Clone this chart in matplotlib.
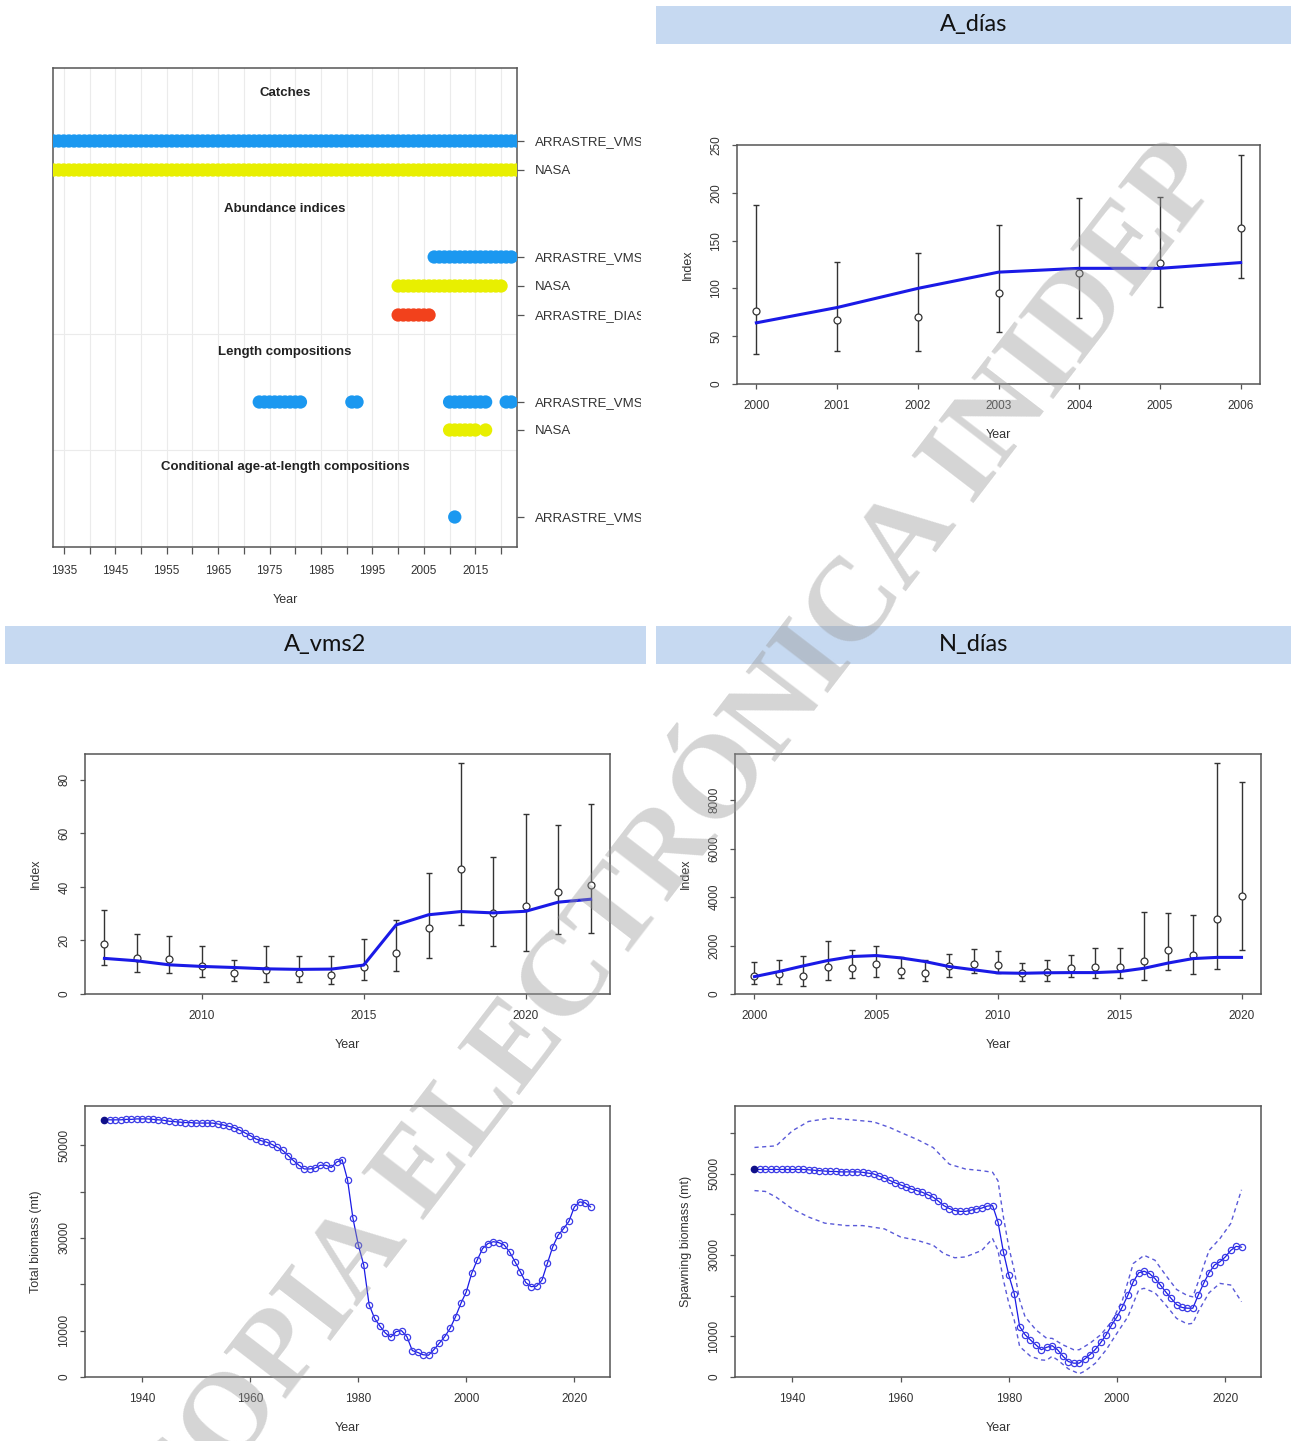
import matplotlib
matplotlib.use("Agg")
import matplotlib.pyplot as plt
from matplotlib.patches import Rectangle
from matplotlib.transforms import Bbox, TransformedBbox
import numpy as np

W, H = 1291, 1441
plt.rcParams['font.family'] = ['Liberation Sans', 'DejaVu Sans']

# ---- data overview ----
fleets = ["ARRASTRE_VMS", "NASA", "ARRASTRE_DIAS"]
fleet_colors = {"ARRASTRE_VMS": "#1b98f0", "NASA": "#e8ef00", "ARRASTRE_DIAS": "#f2411c"}
catch_years = {"ARRASTRE_VMS": list(range(1933, 2024)),
               "NASA": list(range(1933, 2024))}
index_years = {"ARRASTRE_VMS": list(range(2007, 2023)),
               "NASA": list(range(2000, 2021)),
               "ARRASTRE_DIAS": list(range(2000, 2007))}
lencomp_years = {"ARRASTRE_VMS": list(range(1973, 1982)) + [1991, 1992] + list(range(2010, 2018)) + [2021, 2022],
                 "NASA": list(range(2010, 2016)) + [2017]}
agecomp_years = {"ARRASTRE_VMS": [2011]}
section_names = ["Catches", "Abundance indices", "Length compositions",
                 "Conditional age-at-length compositions"]

# ---- index fits ----
adias_years = [2000, 2001, 2002, 2003, 2004, 2005, 2006]
adias_obs = [76, 67, 70, 95, 116, 127, 163]
adias_lo = [31, 35, 35, 54, 69, 81, 111]
adias_hi = [187, 128, 137, 166, 195, 196, 240]
adias_fit = [64, 80, 100, 117, 121, 121, 127]

avms_years = list(range(2007, 2023))
avms_obs = [18.6, 13.6, 12.9, 10.6, 7.9, 8.9, 8.0, 7.2, 10.2, 15.4, 24.6, 46.8, 30.2, 33.0, 38.0, 40.6]
avms_lo = [10.9, 8.1, 8.0, 6.5, 5.0, 4.4, 4.4, 3.6, 5.2, 8.6, 13.3, 25.6, 17.8, 16.1, 22.4, 22.7]
avms_hi = [31.5, 22.5, 21.5, 17.9, 12.7, 17.9, 14.2, 14.2, 20.7, 27.7, 45.2, 86.2, 51.2, 67.2, 63.3, 71.0]
avms_fit = [13.3, 12.4, 10.9, 10.3, 9.9, 9.4, 9.2, 9.3, 10.8, 25.8, 29.6, 30.8, 30.3, 30.9, 34.3, 35.4]

ndias_years = list(range(2000, 2021))
ndias_obs = [745, 814, 745, 1103, 1062, 1241, 966, 855, 1159, 1241, 1186,
             855, 924, 1062, 1131, 1103, 1366, 1821, 1614, 3103, 4041]
ndias_lo = [400, 400, 331, 579, 662, 717, 662, 552, 717, 855, 855,
            552, 552, 717, 676, 662, 579, 993, 828, 1020, 1821]
ndias_hi = [1338, 1407, 1572, 2166, 1821, 2000, 1545, 1407, 1655, 1848, 1766,
            1269, 1421, 1628, 1917, 1903, 3379, 3338, 3255, 9517, 8745]
ndias_fit = [717, 924, 1159, 1379, 1545, 1586, 1490, 1338, 1131, 1000, 870,
             855, 875, 883, 883, 924, 1062, 1280, 1460, 1510, 1510]

# ---- biomass time series ----
bio_years = list(range(1933, 2024))
total_bio = [55.5, 55.5, 55.5, 55.5, 55.6, 55.6, 55.7, 55.7, 55.7, 55.6,
             55.5, 55.4, 55.2, 55.1, 55.0, 54.9, 54.9, 54.8, 54.8, 54.8,
             54.8, 54.6, 54.4, 54.1, 53.8, 53.3, 52.7, 52.1, 51.4, 51.0,
             50.7, 50.2, 49.6, 48.9, 47.8, 46.7, 45.7, 44.9, 44.9, 45.1,
             45.7, 45.7, 45.2, 46.4, 46.9, 42.6, 34.3, 28.5, 24.2, 15.6,
             12.7, 11.0, 9.5, 8.6, 9.8, 10.0, 8.7, 5.7, 5.3, 4.8,
             4.7, 5.9, 7.3, 8.7, 10.5, 13.0, 15.9, 18.4, 22.4, 25.2,
             27.7, 28.8, 29.2, 29.0, 28.5, 27.0, 24.9, 22.7, 20.4, 19.5,
             19.6, 20.9, 24.5, 28.1, 30.6, 32.0, 33.6, 36.7, 37.8, 37.6, 36.7]
ssb = [51.0, 51.0, 51.0, 51.0, 51.0, 51.0, 51.0, 51.0, 51.0, 51.0,
       50.9, 50.8, 50.7, 50.6, 50.5, 50.5, 50.4, 50.4, 50.4, 50.4,
       50.3, 50.1, 49.9, 49.4, 48.9, 48.3, 47.7, 47.2, 46.7, 46.2,
       45.8, 45.4, 44.8, 44.2, 43.2, 42.1, 41.4, 40.9, 40.7, 40.7,
       41.0, 41.3, 41.5, 42.0, 42.1, 38.1, 30.7, 25.0, 20.5, 12.4,
       10.4, 9.1, 7.9, 6.7, 7.3, 7.7, 6.7, 5.1, 3.8, 3.4,
       3.4, 4.4, 5.5, 6.8, 8.5, 10.4, 12.8, 14.8, 17.3, 20.1,
       23.4, 25.6, 26.0, 25.4, 24.2, 22.6, 20.9, 19.3, 17.8, 17.1,
       16.9, 16.9, 20.1, 23.0, 25.6, 27.5, 28.3, 29.5, 31.1, 32.1, 31.9]
ssb_hi_years = [1933, 1935, 1937, 1940, 1943, 1947, 1950, 1955, 1958, 1960, 1963, 1966,
                1969, 1972, 1975, 1977, 1978, 1979, 1980, 1981, 1982, 1983, 1985, 1987,
                1988, 1990, 1992, 1993, 1995, 1997, 1999, 2001, 2003, 2005, 2007, 2009,
                2011, 2013, 2014, 2015, 2017, 2019, 2021, 2023]
ssb_hi = [56.4, 56.6, 56.8, 60.5, 62.8, 63.6, 63.3, 62.7, 61.3, 60.1, 58.4, 56.4,
          52.3, 51.1, 50.7, 50.3, 48.2, 39.3, 31.9, 26.2, 18.9, 14.8, 11.6, 9.5,
          9.5, 7.9, 6.7, 6.7, 8.3, 10.4, 13.6, 18.9, 27.9, 29.9, 28.7, 25.0,
          21.5, 20.0, 19.7, 23.4, 31.1, 34.0, 37.7, 46.0]
ssb_lo_years = [1933, 1935, 1937, 1940, 1943, 1946, 1950, 1953, 1957, 1960, 1963, 1966,
                1968, 1970, 1972, 1975, 1977, 1978, 1979, 1980, 1981, 1982, 1984, 1986,
                1987, 1988, 1989, 1991, 1993, 1994, 1996, 1998, 2000, 2002, 2004, 2005,
                2007, 2009, 2011, 2013, 2014, 2015, 2017, 2019, 2021, 2023]
ssb_lo = [45.8, 45.6, 44.2, 41.3, 39.3, 37.8, 37.2, 37.2, 36.4, 34.4, 33.6, 32.4,
          30.3, 29.3, 29.5, 31.1, 34.0, 31.1, 23.8, 18.1, 14.0, 7.5, 5.1, 4.2,
          4.1, 5.1, 4.2, 2.0, 0.8, 1.4, 3.4, 6.7, 10.8, 14.8, 21.4, 21.8,
          20.7, 17.7, 14.4, 13.0, 13.2, 16.1, 20.7, 23.0, 22.6, 18.5]

TXT = '#333333'
AX = '#555555'
BLUE = '#1a1ae6'

fig = plt.figure(figsize=(W / 100, H / 100), dpi=100)


def px_axes(x0, y0, x1, y1):
    return fig.add_axes([x0 / W, 1 - y1 / H, (x1 - x0) / W, (y1 - y0) / H])


def r_style(ax):
    for s in ax.spines.values():
        s.set_color(AX)
        s.set_linewidth(1.1)
    ax.tick_params(direction='out', length=3.6, width=0.9, color=AX,
                   labelcolor=TXT, labelsize=8.5)
    ax.tick_params(axis='x', pad=8)
    ax.tick_params(axis='y', pad=7, labelrotation=90)
    for lbl in ax.get_yticklabels():
        lbl.set_va('center')


def header(x0, y0, x1, y1, text):
    fig.patches.append(Rectangle((x0 / W, 1 - y1 / H), (x1 - x0) / W, (y1 - y0) / H,
                                 transform=fig.transFigure, facecolor='#c6d9f1',
                                 edgecolor='none', zorder=0))
    fig.text((x0 + x1) / 2 / W, 1 - (y0 + y1) / 2 / H, text, ha='center', va='center',
             fontsize=17, family=['Lato', 'DejaVu Sans'], color='#111111')


header(656, 6, 1291, 44, "A_días")
header(5, 626, 646, 664, "A_vms2")
header(656, 626, 1291, 664, "N_días")

# ---- data overview panel ----
ax = px_axes(53, 68, 517, 547)
ax.set_xlim(1932.9, 2023.1)
ax.set_ylim(547, 68)
for x in range(1935, 2021, 5):
    ax.axvline(x, color='#ebebeb', lw=0.8, zorder=0)
for y in [334, 450]:
    ax.axhline(y, color='#ebebeb', lw=0.8, zorder=0)

title_y = [93, 209, 352, 467]
row_y = [[141, 170], [257, 286, 315], [402, 430], [517]]
groups = [catch_years, index_years, lencomp_years, agecomp_years]
ticks_y, ticks_lab = [], []
for name, ty, rows, grp in zip(section_names, title_y, row_y, groups):
    ax.text(np.mean(ax.get_xlim()), ty, name, ha='center', va='center',
            fontsize=9.5, fontweight='bold', color='#222222')
    for fl, yy in zip([f for f in fleets if f in grp], rows):
        yrs = grp[fl]
        ax.scatter(yrs, [yy] * len(yrs), s=92, color=fleet_colors[fl],
                   edgecolors='none', zorder=3)
        ticks_y.append(yy)
        ticks_lab.append(fl)

for s in ax.spines.values():
    s.set_color(AX)
    s.set_linewidth(1.1)
ax.yaxis.tick_right()
ax.set_yticks(ticks_y)
ax.set_yticklabels(ticks_lab)
ax.tick_params(axis='y', direction='out', length=5, width=0.9, color=AX,
               labelcolor=TXT, labelsize=9.5, pad=8)
ax.set_xticks(range(1935, 2021, 5))
ax.set_xticklabels([str(y) if (y - 1935) % 10 == 0 else '' for y in range(1935, 2021, 5)])
ax.tick_params(axis='x', direction='out', length=5, width=0.9, color=AX,
               labelcolor=TXT, labelsize=8.5, pad=8)
ax.set_xlabel("Year", fontsize=9, color=TXT, labelpad=12)
clip = TransformedBbox(Bbox([[0, 0], [641 / W, 1]]), fig.transFigure)
for lbl in ax.get_yticklabels():
    lbl.set_clip_box(clip)
    lbl.set_clip_on(True)


# ---- index panels ----
def index_panel(box, years, obs, lo, hi, fit, yticks, xticks):
    ax = px_axes(*box)
    years = np.array(years)
    obs, lo, hi = np.array(obs), np.array(lo), np.array(hi)
    ax.errorbar(years, obs, yerr=[obs - lo, hi - obs], fmt='none', ecolor='#333333',
                elinewidth=1, capsize=2.5, capthick=1, zorder=2)
    ax.plot(years, obs, 'o', mfc='white', mec='#333333', ms=5, mew=0.9, zorder=3)
    ax.plot(years, fit, color=BLUE, lw=2.2, zorder=4)
    span = years[-1] - years[0]
    ax.set_xlim(years[0] - 0.04 * span, years[-1] + 0.04 * span)
    ax.set_ylim(0, 1.04 * hi.max())
    ax.set_xticks(xticks)
    ax.set_yticks(yticks)
    r_style(ax)
    ax.set_xlabel("Year", fontsize=9, color=TXT, labelpad=12)
    ax.set_ylabel("Index", fontsize=9, color=TXT, labelpad=12)
    return ax


index_panel((737, 145, 1260, 384), adias_years, adias_obs, adias_lo, adias_hi, adias_fit,
            range(0, 251, 50), adias_years)
index_panel((85, 754, 610, 994), avms_years, avms_obs, avms_lo, avms_hi, avms_fit,
            range(0, 81, 20), [2010, 2015, 2020])
index_panel((735, 754, 1261, 994), ndias_years, ndias_obs, ndias_lo, ndias_hi, ndias_fit,
            range(0, 8001, 2000), [2000, 2005, 2010, 2015, 2020])


# ---- biomass panels ----
def bio_panel(box, ylabel, vals, yticks, ylabels):
    ax = px_axes(*box)
    v = np.array(vals) * 1000
    ax.plot(bio_years, v, '-', color=BLUE, lw=0.9, zorder=3)
    ax.plot(bio_years[1:], v[1:], 'o', mfc='none', mec='#3c3ce6', ms=4.5, mew=0.9, zorder=3)
    ax.plot(bio_years[:1], v[:1], 'o', color='#10108a', ms=4.5, zorder=4)
    span = bio_years[-1] - bio_years[0]
    ax.set_xlim(bio_years[0] - 0.04 * span, bio_years[-1] + 0.04 * span)
    ax.set_xticks([1940, 1960, 1980, 2000, 2020])
    ax.set_yticks(yticks)
    ax.set_yticklabels(ylabels)
    r_style(ax)
    ax.set_xlabel("Year", fontsize=9, color=TXT, labelpad=12)
    ax.set_ylabel(ylabel, fontsize=9, color=TXT, labelpad=12)
    return ax


ax5 = bio_panel((85, 1106, 610, 1377), "Total biomass (mt)", total_bio,
                range(0, 50001, 10000), ['0', '10000', '', '30000', '', '50000'])
ax5.set_ylim(0, 1.05 * max(total_bio) * 1000)

ax6 = bio_panel((735, 1106, 1261, 1377), "Spawning biomass (mt)", ssb,
                range(0, 60001, 10000), ['0', '10000', '', '30000', '', '50000', ''])
ax6.plot(ssb_hi_years, np.array(ssb_hi) * 1000, '--', color='#5a5ad8', lw=1, dashes=(3, 2.5))
ax6.plot(ssb_lo_years, np.array(ssb_lo) * 1000, '--', color='#5a5ad8', lw=1, dashes=(3, 2.5))
ax6.set_ylim(0, 1.047 * max(ssb_hi) * 1000)

# ---- watermark ----
fig.text(678 / W, 1 - 842 / H, "COPIA ELECTRÓNICA INIDEP", ha='center', va='center',
         rotation=52.5, rotation_mode='anchor', fontsize=85, fontweight='bold',
         family=['Liberation Serif', 'DejaVu Serif'], color='#9a9a9a', alpha=0.42, zorder=20)

fig.savefig("out.png", dpi=100)
